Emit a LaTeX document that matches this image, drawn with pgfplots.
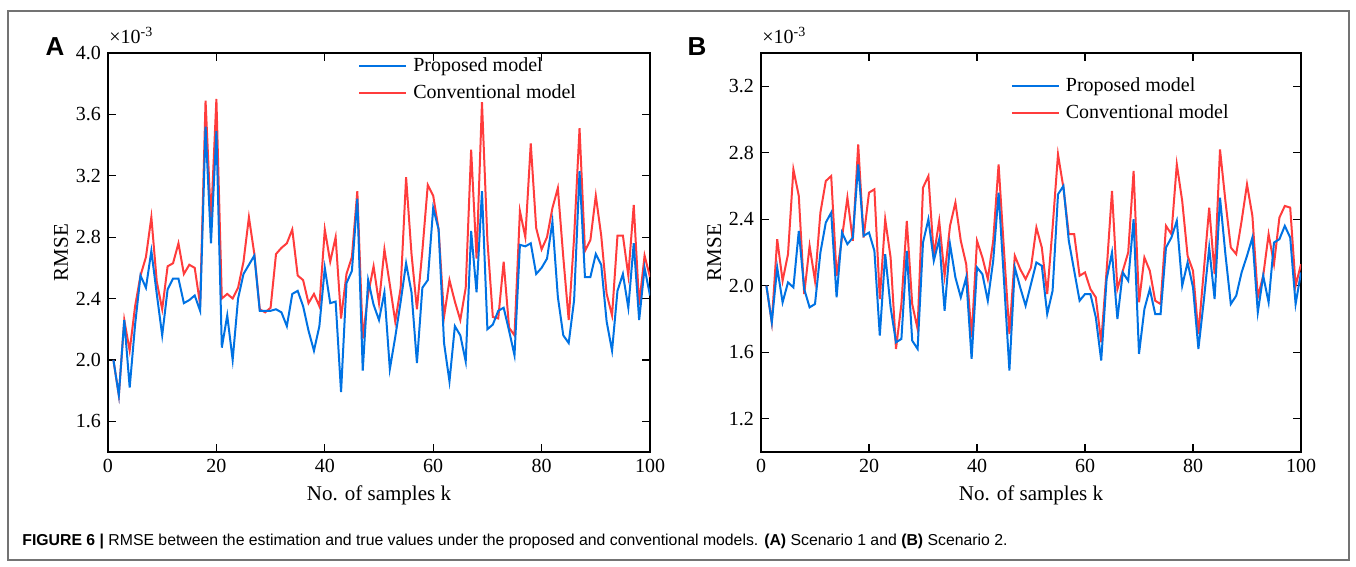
\documentclass[border=0pt]{standalone}
\usepackage{fontspec}
\setmainfont{Liberation Serif}
\newfontfamily\capfont{Liberation Sans}
\usepackage{pgfplots}
\usepackage{pgfplotstable}
\pgfplotsset{compat=1.18}
\definecolor{bl}{RGB}{0,114,227}
\definecolor{rd}{RGB}{255,60,60}

\pgfplotstableread{
k p c
1 2.00 2.00
2 1.77 1.77
3 2.26 2.26
4 1.82 2.06
5 2.23 2.35
6 2.55 2.55
7 2.47 2.67
8 2.71 2.93
9 2.43 2.51
10 2.16 2.33
11 2.46 2.61
12 2.53 2.63
13 2.53 2.76
14 2.37 2.56
15 2.39 2.62
16 2.42 2.60
17 2.32 2.36
18 3.52 3.69
19 2.76 2.90
20 3.49 3.70
21 2.08 2.40
22 2.29 2.43
23 2.00 2.40
24 2.40 2.47
25 2.56 2.64
26 2.62 2.93
27 2.68 2.69
28 2.32 2.33
29 2.32 2.31
30 2.32 2.34
31 2.33 2.69
32 2.31 2.73
33 2.22 2.76
34 2.43 2.85
35 2.45 2.55
36 2.35 2.52
37 2.19 2.37
38 2.06 2.43
39 2.22 2.35
40 2.60 2.85
41 2.37 2.64
42 2.38 2.80
43 1.79 2.27
44 2.50 2.56
45 2.58 2.67
46 3.05 3.10
47 1.93 2.14
48 2.52 2.43
49 2.36 2.61
50 2.26 2.37
51 2.44 2.72
52 1.94 2.49
53 2.15 2.25
54 2.38 2.47
55 2.63 3.19
56 2.44 2.69
57 1.98 2.33
58 2.47 2.71
59 2.52 3.14
60 2.99 3.07
61 2.85 2.85
62 2.11 2.28
63 1.86 2.52
64 2.22 2.38
65 2.16 2.26
66 1.99 2.47
67 2.84 3.37
68 2.44 2.66
69 3.10 3.68
70 2.20 2.78
71 2.23 2.28
72 2.32 2.27
73 2.34 2.64
74 2.19 2.21
75 2.03 2.16
76 2.75 2.97
77 2.74 2.80
78 2.76 3.41
79 2.56 2.86
80 2.60 2.72
81 2.66 2.80
82 2.90 2.99
83 2.41 3.12
84 2.16 2.67
85 2.11 2.26
86 2.39 2.80
87 3.23 3.51
88 2.54 2.71
89 2.54 2.78
90 2.69 3.07
91 2.62 2.81
92 2.25 2.43
93 2.06 2.29
94 2.45 2.81
95 2.56 2.81
96 2.34 2.55
97 2.76 3.01
98 2.26 2.36
99 2.60 2.68
100 2.42 2.54
}\dataA

\pgfplotstableread{
k p c
1 2.00 2.00
2 1.78 1.78
3 2.11 2.28
4 1.90 2.03
5 2.02 2.19
6 1.99 2.70
7 2.33 2.54
8 1.98 1.95
9 1.87 2.24
10 1.89 2.03
11 2.20 2.44
12 2.38 2.63
13 2.44 2.66
14 1.93 2.06
15 2.32 2.29
16 2.25 2.53
17 2.29 2.27
18 2.73 2.85
19 2.30 2.29
20 2.32 2.56
21 2.21 2.58
22 1.70 1.92
23 2.19 2.40
24 1.87 2.17
25 1.66 1.62
26 1.68 1.89
27 2.21 2.39
28 1.67 1.89
29 1.62 1.74
30 2.26 2.59
31 2.40 2.66
32 2.15 2.18
33 2.28 2.39
34 1.85 2.06
35 2.25 2.36
36 2.05 2.50
37 1.93 2.27
38 2.05 2.13
39 1.56 1.69
40 2.11 2.27
41 2.07 2.17
42 1.91 2.04
43 2.15 2.27
44 2.56 2.73
45 2.03 2.21
46 1.49 1.71
47 2.11 2.18
48 1.99 2.10
49 1.88 2.04
50 2.01 2.11
51 2.14 2.35
52 2.12 2.23
53 1.83 1.95
54 1.97 2.35
55 2.55 2.79
56 2.60 2.59
57 2.27 2.31
58 2.09 2.31
59 1.91 2.06
60 1.95 2.08
61 1.95 1.98
62 1.81 1.93
63 1.55 1.66
64 2.04 2.09
65 2.20 2.57
66 1.80 1.98
67 2.08 2.09
68 2.03 2.20
69 2.40 2.69
70 1.59 1.90
71 1.86 2.17
72 1.98 2.09
73 1.83 1.91
74 1.83 1.89
75 2.23 2.36
76 2.29 2.31
77 2.39 2.73
78 2.00 2.51
79 2.14 2.18
80 1.99 2.09
81 1.62 1.71
82 1.91 2.09
83 2.23 2.47
84 1.92 2.07
85 2.53 2.82
86 2.19 2.51
87 1.89 2.23
88 1.94 2.19
89 2.08 2.39
90 2.18 2.61
91 2.29 2.42
92 1.84 1.93
93 2.06 2.06
94 1.90 2.31
95 2.26 2.13
96 2.28 2.41
97 2.36 2.48
98 2.29 2.47
99 1.89 2.00
100 2.08 2.13
}\dataB

\pgfplotsset{
  panel/.style={
    scale only axis, width=270pt, height=199.5pt,
    xmin=0, xmax=100, xtick={0,20,...,100},
    tick align=inside, major tick length=4pt,
    axis line style={line width=0.6pt},
    every tick/.style={black, line width=0.6pt},
    tick label style={font=\fontsize{10}{12}\selectfont},
    label style={font=\fontsize{10.5}{12.5}\selectfont},
    /pgf/number format/assume math mode=true,
    yticklabel style={/pgf/number format/fixed, /pgf/number format/fixed zerofill, /pgf/number format/precision=1},
    xlabel={No. of samples k}, ylabel={RMSE},
    xlabel style={yshift=0.5pt},
    ylabel style={yshift=-3pt},
    legend cell align=left, reverse legend,
    legend image code/.code={\draw[##1, line width=1pt] (0,0) -- (23.5pt,0);},
    legend style={draw=none, fill=none, anchor=north west, inner sep=0pt,
      font=\fontsize{10}{12}\selectfont, row sep=2pt, column sep=1.5pt,
      nodes={inner sep=1.5pt}},
  },
}

\begin{document}
\begin{tikzpicture}[x=0.5pt,y=0.5pt]
\path[use as bounding box] (0,0) rectangle (1356,567);
\draw[black!55, line width=0.6pt] (8,556) rectangle (1349,7);

% Panel A
\begin{axis}[panel, at={(54pt,57.5pt)}, anchor=south west, width=271pt,
  ymin=1.4, ymax=4.0, ytick={1.6,2.0,...,4.0},
  legend style={at={(0.461,0.996)}}]
\addplot[rd, line width=1pt] table[x=k, y=c] {\dataA};
\addplot[bl, line width=1pt] table[x=k, y=p] {\dataA};
\legend{Conventional model, Proposed model}
\end{axis}
\node[anchor=base west, font=\fontsize{10}{12}\selectfont, inner sep=0pt] at (109,523) {×10\textsuperscript{-3}};
\node[font=\capfont\bfseries\fontsize{13}{15}\selectfont] at (55,520) {A};

% Panel B
\begin{axis}[panel, at={(380.5pt,57.5pt)}, anchor=south west,
  ymin=1.0, ymax=3.4, ytick={1.2,1.6,...,3.2},
  legend style={at={(0.462,0.947)}}]
\addplot[rd, line width=1pt] table[x=k, y=c] {\dataB};
\addplot[bl, line width=1pt] table[x=k, y=p] {\dataB};
\legend{Conventional model, Proposed model}
\end{axis}
\node[anchor=base west, font=\fontsize{10}{12}\selectfont, inner sep=0pt] at (762,523) {×10\textsuperscript{-3}};
\node[font=\capfont\bfseries\fontsize{13}{15}\selectfont] at (697,520) {B};

% Caption
\node[anchor=base west, inner sep=0pt, font=\capfont\fontsize{7.9}{10}\selectfont] at (22,21) {\textbf{FIGURE 6 |} RMSE between the estimation and true values under the proposed and conventional models. \textbf{(A)} Scenario 1 and \textbf{(B)} Scenario 2.};
\end{tikzpicture}
\end{document}
